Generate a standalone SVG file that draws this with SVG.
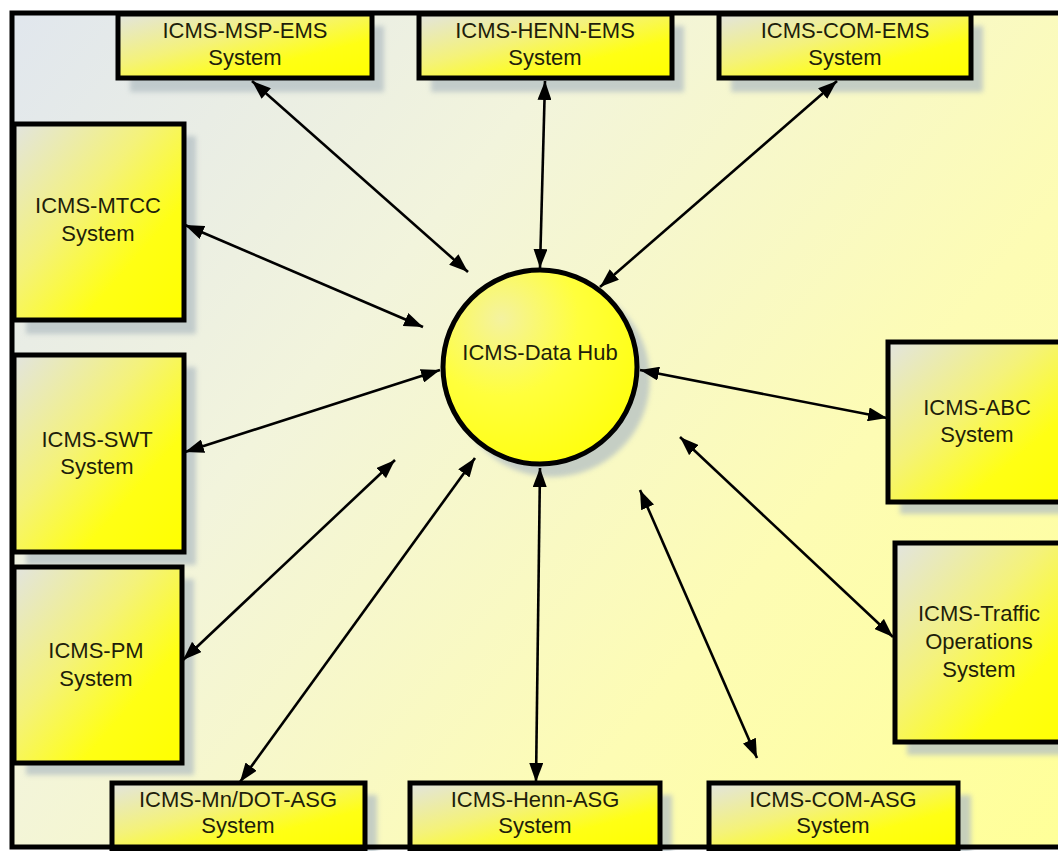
<svg xmlns="http://www.w3.org/2000/svg" width="1058" height="851" viewBox="0 0 1058 851">
  <style>
    .box { stroke: #000; stroke-width: 5; fill: url(#boxFill); }
    .shadow { fill: #b4c0c4; opacity: 0.75; filter: url(#soft); }
    .label { font-family: "Liberation Sans", Arial, sans-serif; font-size: 22px; fill: #1e1e0a; text-anchor: middle; }
    .link { stroke: #000; stroke-width: 2.6; fill: none; marker-start: url(#head); marker-end: url(#head); }
  </style>
  <defs>
    <linearGradient id="bg" gradientUnits="userSpaceOnUse" x1="0" y1="0" x2="1058" y2="851">
      <stop offset="0" stop-color="#e0e6ee"/>
      <stop offset="0.35" stop-color="#f2f4dc"/>
      <stop offset="0.7" stop-color="#fdfcb4"/>
      <stop offset="1" stop-color="#ffff98"/>
    </linearGradient>
    <linearGradient id="boxFill" x1="0" y1="0" x2="1" y2="1">
      <stop offset="0" stop-color="#e2e4e0"/>
      <stop offset="0.4" stop-color="#f4f27a"/>
      <stop offset="0.7" stop-color="#ffff14"/>
      <stop offset="1" stop-color="#ffff00"/>
    </linearGradient>
    <radialGradient id="hubFill" cx="0.3" cy="0.25" r="0.8">
      <stop offset="0" stop-color="#f4f2a0"/>
      <stop offset="0.5" stop-color="#ffff3c"/>
      <stop offset="1" stop-color="#ffff10"/>
    </radialGradient>
    <filter id="soft" x="-10%" y="-10%" width="120%" height="120%">
      <feGaussianBlur stdDeviation="2.5"/>
    </filter>
    <marker id="head" markerUnits="userSpaceOnUse" markerWidth="20" markerHeight="14" refX="19" refY="7" orient="auto-start-reverse">
      <path d="M0,0 L19,7 L0,14 z" fill="#000"/>
    </marker>
  </defs>

  <!-- canvas background -->
  <rect x="0" y="0" width="1058" height="851" fill="#ffffff"/>
  <rect x="12" y="13" width="1100" height="834" fill="url(#bg)"/>

  <!-- drop shadows -->
  <g id="shadows">
    <rect class="shadow" x="130" y="26" width="254" height="66"/>
    <rect class="shadow" x="431" y="26" width="253" height="66"/>
    <rect class="shadow" x="731" y="26" width="252" height="66"/>
    <rect class="shadow" x="26" y="136" width="170" height="198"/>
    <rect class="shadow" x="26" y="367" width="170" height="198"/>
    <rect class="shadow" x="26" y="579" width="168" height="196"/>
    <rect class="shadow" x="900" y="354" width="170" height="160"/>
    <rect class="shadow" x="907" y="555" width="170" height="200"/>
    <rect class="shadow" x="124" y="795" width="253" height="60"/>
    <rect class="shadow" x="422" y="795" width="250" height="60"/>
    <rect class="shadow" x="721" y="795" width="250" height="60"/>
    <circle class="shadow" cx="552" cy="379" r="98"/>
  </g>

  <!-- connectors -->
  <g id="connectors">
    <line class="link" x1="252" y1="81" x2="468" y2="272"/>
    <line class="link" x1="545" y1="81" x2="540" y2="268"/>
    <line class="link" x1="837" y1="81" x2="600" y2="287"/>
    <line class="link" x1="185" y1="225" x2="423" y2="327"/>
    <line class="link" x1="185" y1="452" x2="440" y2="370"/>
    <line class="link" x1="183" y1="660" x2="395" y2="460"/>
    <line class="link" x1="240" y1="782" x2="475" y2="458"/>
    <line class="link" x1="536" y1="782" x2="540" y2="468"/>
    <line class="link" x1="757" y1="758" x2="640" y2="490"/>
    <line class="link" x1="640" y1="370" x2="887" y2="418"/>
    <line class="link" x1="680" y1="437" x2="893" y2="637"/>
  </g>

  <!-- central hub -->
  <g id="hub">
    <circle cx="540" cy="367" r="97" fill="url(#hubFill)" stroke="#000" stroke-width="5"/>
    <text class="label" x="540" y="360">ICMS-Data Hub</text>
  </g>

  <!-- top row -->
  <g id="msp-ems">
    <rect class="box" x="118" y="14" width="254" height="64"/>
    <text class="label" x="245" y="38">ICMS-MSP-EMS</text>
    <text class="label" x="245" y="65">System</text>
  </g>
  <g id="henn-ems">
    <rect class="box" x="419" y="14" width="253" height="64"/>
    <text class="label" x="545" y="38">ICMS-HENN-EMS</text>
    <text class="label" x="545" y="65">System</text>
  </g>
  <g id="com-ems">
    <rect class="box" x="719" y="14" width="252" height="64"/>
    <text class="label" x="845" y="38">ICMS-COM-EMS</text>
    <text class="label" x="845" y="65">System</text>
  </g>

  <!-- left column -->
  <g id="mtcc">
    <rect class="box" x="14" y="124" width="170" height="196"/>
    <text class="label" x="98" y="213">ICMS-MTCC</text>
    <text class="label" x="98" y="241">System</text>
  </g>
  <g id="swt">
    <rect class="box" x="14" y="355" width="170" height="197"/>
    <text class="label" x="97" y="447">ICMS-SWT</text>
    <text class="label" x="97" y="474">System</text>
  </g>
  <g id="pm">
    <rect class="box" x="14" y="567" width="168" height="196"/>
    <text class="label" x="96" y="658">ICMS-PM</text>
    <text class="label" x="96" y="686">System</text>
  </g>

  <!-- right column -->
  <g id="abc">
    <rect class="box" x="888" y="342" width="190" height="160"/>
    <text class="label" x="977" y="415">ICMS-ABC</text>
    <text class="label" x="977" y="442">System</text>
  </g>
  <g id="traffic-ops">
    <rect class="box" x="895" y="543" width="190" height="199"/>
    <text class="label" x="979" y="621">ICMS-Traffic</text>
    <text class="label" x="979" y="649">Operations</text>
    <text class="label" x="979" y="677">System</text>
  </g>

  <!-- bottom row -->
  <g id="mndot-asg">
    <rect class="box" x="112" y="783" width="253" height="66"/>
    <text class="label" x="238" y="807">ICMS-Mn/DOT-ASG</text>
    <text class="label" x="238" y="833">System</text>
  </g>
  <g id="henn-asg">
    <rect class="box" x="410" y="783" width="250" height="66"/>
    <text class="label" x="535" y="807">ICMS-Henn-ASG</text>
    <text class="label" x="535" y="833">System</text>
  </g>
  <g id="com-asg">
    <rect class="box" x="709" y="783" width="249" height="66"/>
    <text class="label" x="833" y="807">ICMS-COM-ASG</text>
    <text class="label" x="833" y="833">System</text>
  </g>

  <!-- outer frame -->
  <rect x="12" y="13" width="1100" height="834" fill="none" stroke="#000" stroke-width="5"/>
</svg>
